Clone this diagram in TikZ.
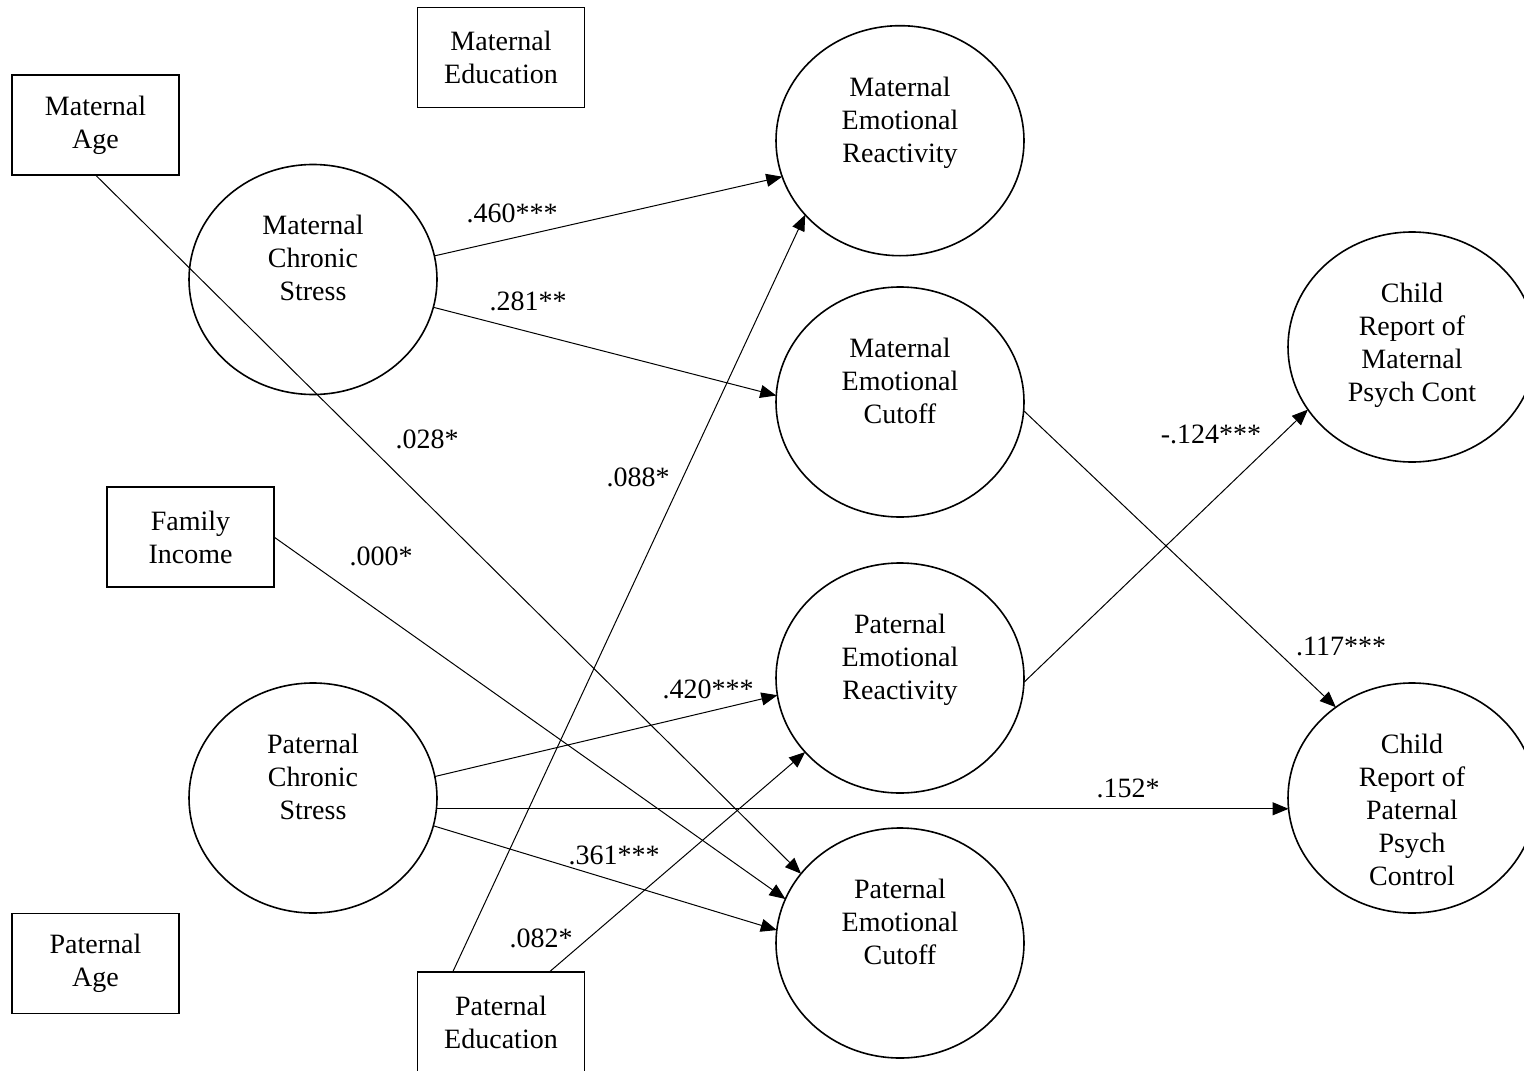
\documentclass[tikz,border=0pt]{standalone}
\usepackage{fontspec}
\setmainfont{Liberation Serif}
\usetikzlibrary{arrows.meta, shapes.geometric, positioning}
\tikzset{
  obsbox/.style  = {draw, line width=0.8pt, minimum width=83.5pt, minimum height=50pt,
                    align=center, inner sep=2pt, outer sep=0pt, font=\semfont},
  latent/.style  = {draw, ellipse, line width=0.8pt, minimum width=124pt, minimum height=115pt,
                    inner sep=0pt, outer sep=0pt, font=\semfont},
  effect/.style  = {-{Triangle[length=8pt, width=6.5pt]}, line width=0.5pt},
  coef/.style    = {font=\semfont, inner sep=0pt},
}
\newcommand{\semfont}{\fontsize{14}{16.5}\selectfont}
% text sits near the top of each ellipse
\newcommand{\toptext}[1]{\parbox[c][64pt][t]{84pt}{\centering #1}}

\begin{document}
\begin{tikzpicture}[x=0.5pt, y=-0.5pt]
  \useasboundingbox (0,0) rectangle (1524,1070);

  % observed covariates
  \node[obsbox] (matage) at (95.5,125)  {Maternal\\Age};
  \node[obsbox] (matedu) at (501,57.5)  {Maternal\\Education};
  \node[obsbox] (faminc) at (190.5,537) {Family\\Income};
  \node[obsbox] (patage) at (95.5,963.5) {Paternal\\Age};
  \node[obsbox] (patedu) at (501,1022)  {Paternal\\Education};

  % latent variables
  \node[latent] (mcs)  at (313,279.5) {\toptext{Maternal\\Chronic\\Stress}};
  \node[latent] (pcs)  at (313,798)   {\toptext{Paternal\\Chronic\\Stress}};
  \node[latent] (mer)  at (900,140.7) {\toptext{Maternal\\Emotional\\Reactivity}};
  \node[latent] (mec)  at (900,402)   {\toptext{Maternal\\Emotional\\Cutoff}};
  \node[latent] (per)  at (900,678)   {\toptext{Paternal\\Emotional\\Reactivity}};
  \node[latent] (pec)  at (900,943)   {\toptext{Paternal\\Emotional\\Cutoff}};
  \node[latent] (cmat) at (1412,347)  {\toptext{Child\\Report of\\Maternal\\Psych Cont}};
  \node[latent] (cpat) at (1412,798)  {\toptext{Child\\Report of\\Paternal\\Psych\\Control}};

  % paths
  \draw[effect] (mcs.11)       -- (mer.197);
  \draw[effect] (mcs.347)      -- (mec.177);
  \draw[effect] (matage.south) -- (pec.145);
  \draw[effect] (faminc.east)  -- (pec.159);
  \draw[effect] (patedu.134)   -- (mer.218);
  \draw[effect] (patedu.46)    -- (per.218);
  \draw[effect] (pcs.10)       -- (per.188);
  \draw[effect] (pcs.355)      -- (cpat.185);
  \draw[effect] (pcs.347)      -- (pec.174);
  \draw[effect] (mec.356)      -- (cpat.130);
  \draw[effect] (per.358)      -- (cmat.211);

  % coefficients
  \node[coef] (c460) at (512,213)  {.460***};
  \node[coef] (c281) at (528,301)  {.281**};
  \node[coef] (c028) at (427,439)  {.028*};
  \node[coef] (c088) at (638,477)  {.088*};
  \node[coef] (c000) at (381,556)  {.000*};
  \node[coef] (c420) at (708,689)  {.420***};
  \node[coef] (c361) at (614,855)  {.361***};
  \node[coef] (c082) at (541,938)  {.082*};
  \node[coef] (c152) at (1128,788) {.152*};
  \node[coef] (c117) at (1341,646) {.117***};
  \node[coef] (c124) at (1211,434) {-.124***};
\end{tikzpicture}
\end{document}
